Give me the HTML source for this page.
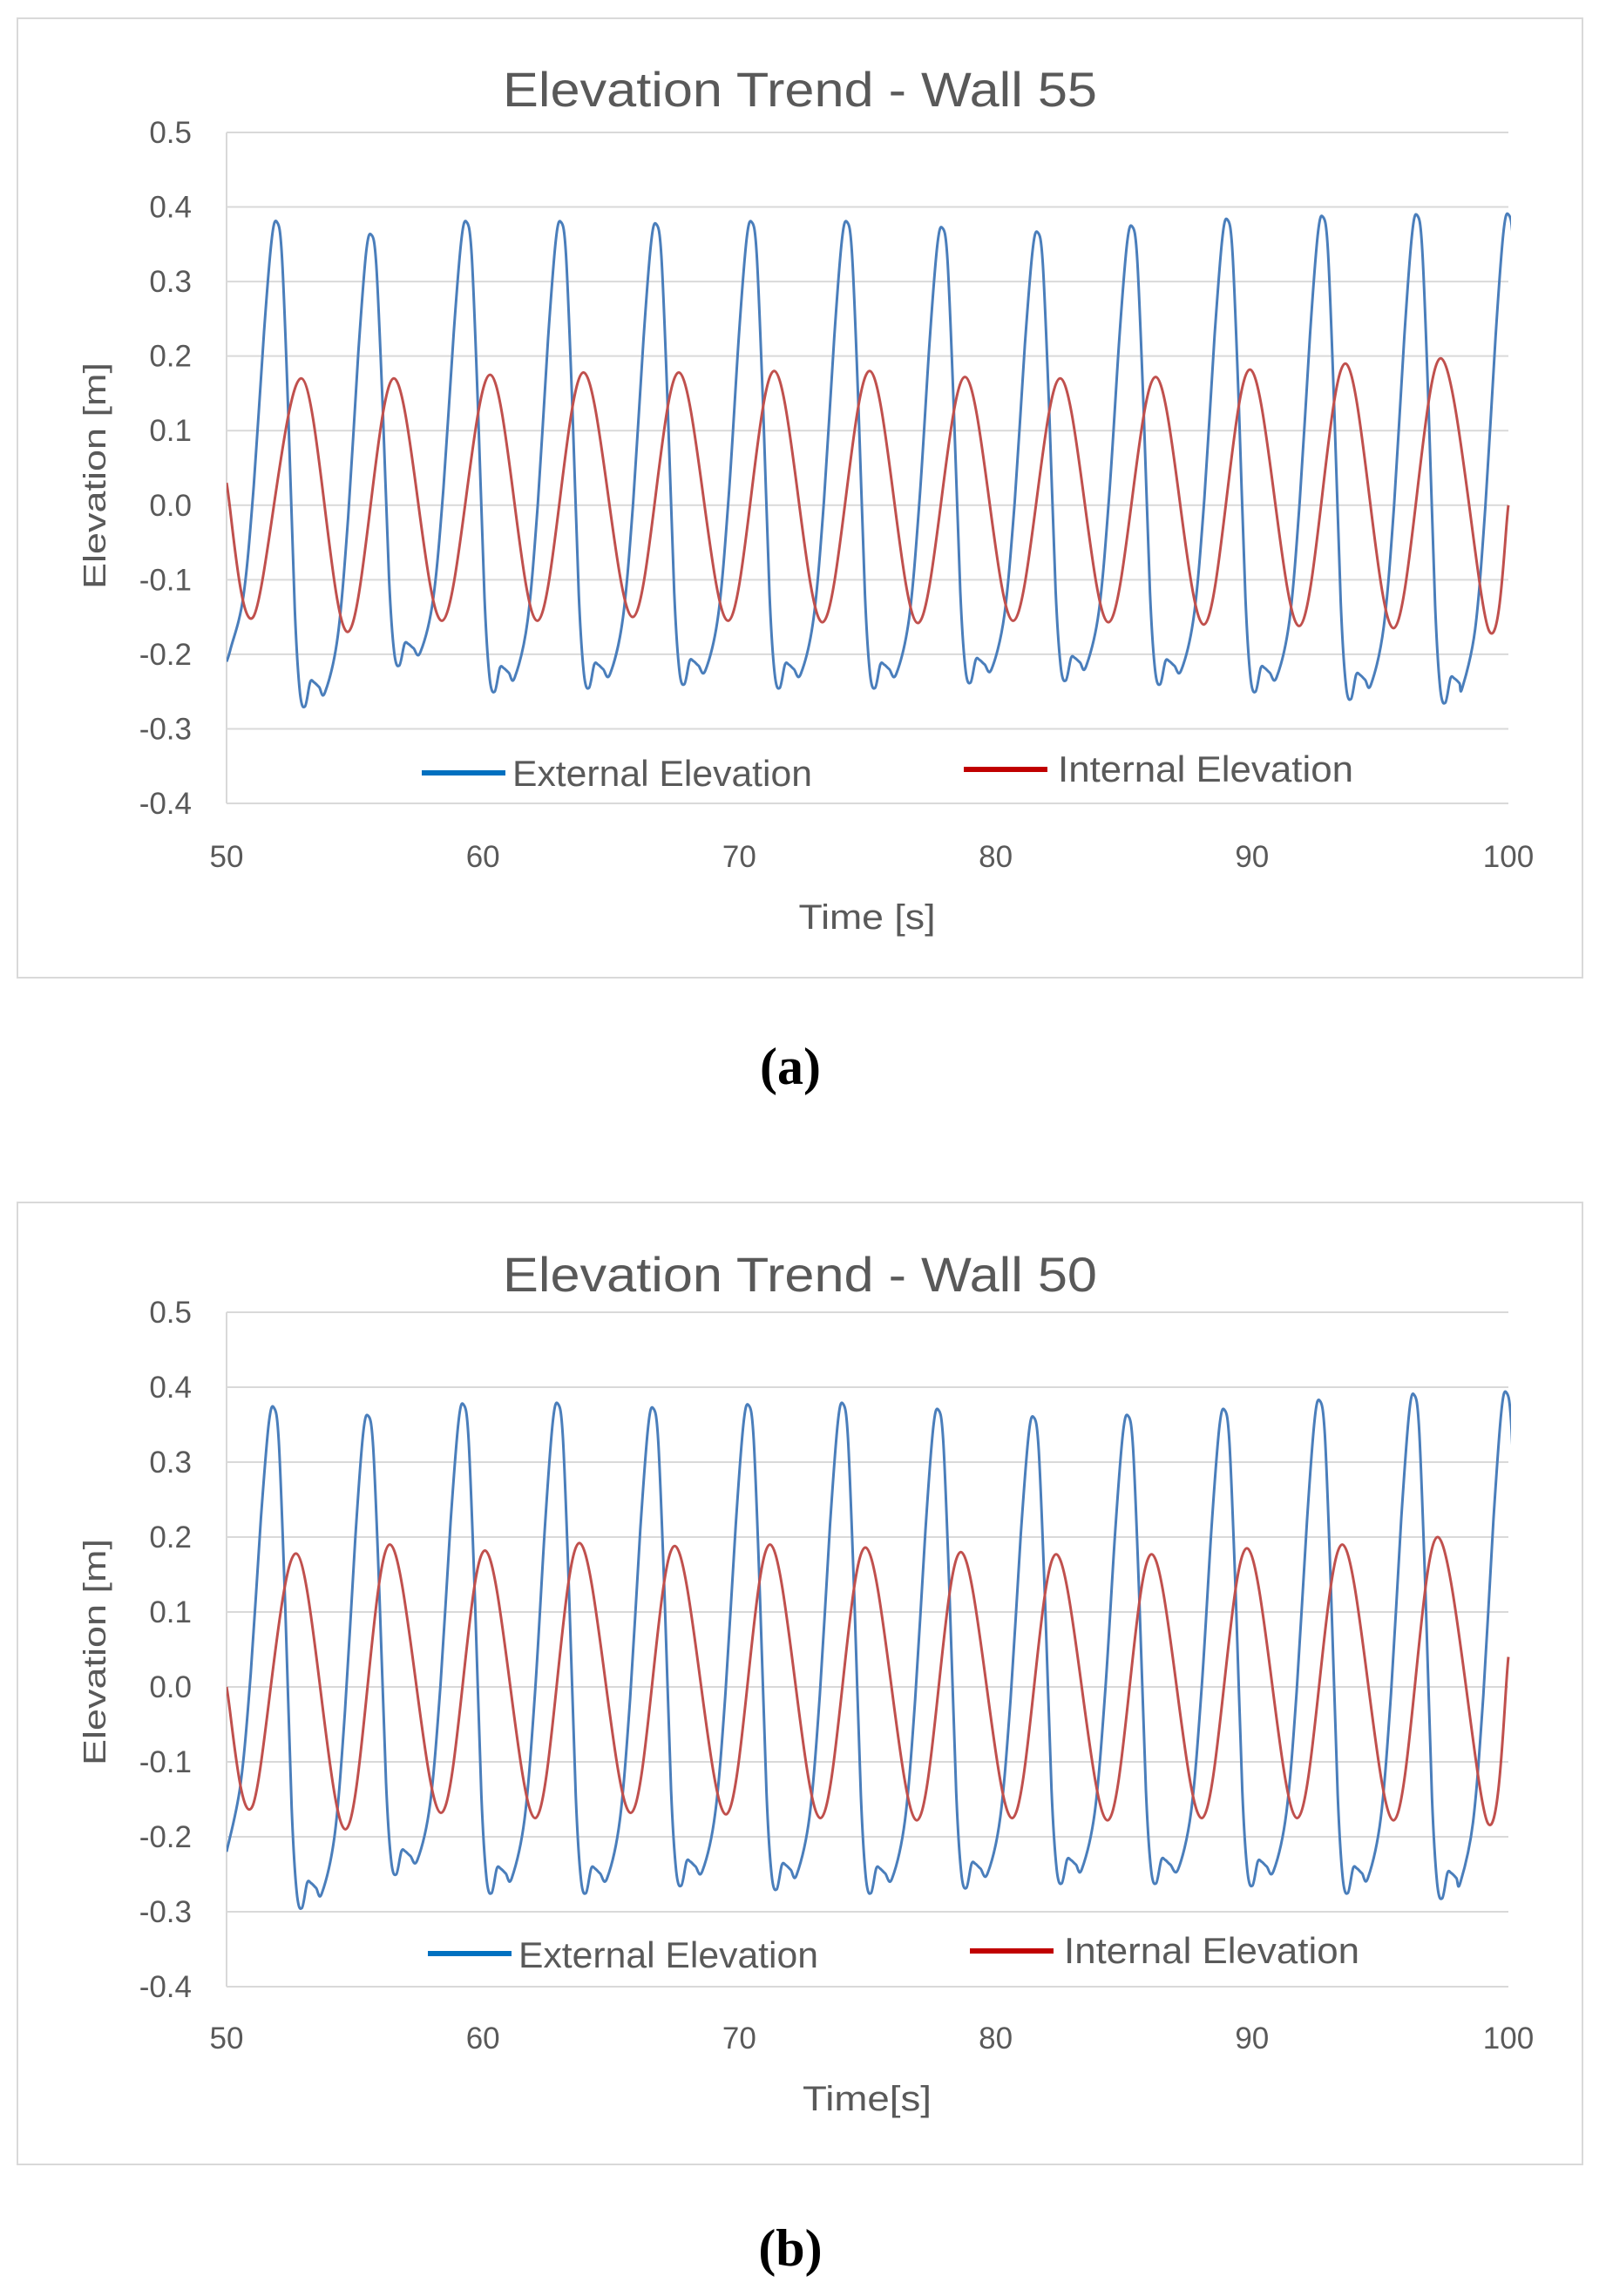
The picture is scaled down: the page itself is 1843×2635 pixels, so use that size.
<!DOCTYPE html>
<html><head><meta charset="utf-8"><style>
html,body{margin:0;padding:0;background:#fff}
svg{display:block}
text{font-family:"Liberation Sans Narrow","Liberation Sans",sans-serif;fill:#595959}
</style></head><body>
<svg id="fig" width="1843" height="2635" viewBox="0 0 1843 2635" xmlns="http://www.w3.org/2000/svg"></svg>
<script>
// ---- data (chart a: Wall 55) ----
const yTicks = [0.5,0.4,0.3,0.2,0.1,0.0,-0.1,-0.2,-0.3,-0.4];
const yTickLabels = ["0.5","0.4","0.3","0.2","0.1","0.0","-0.1","-0.2","-0.3","-0.4"];
const xTicks = [50,60,70,80,90,100];
const xTickLabels = ["50","60","70","80","90","100"];
const aExtPeakT = [51.96,55.64,59.36,63.04,66.76,70.48,74.2,77.92,81.64,85.32,89.04,92.76,96.44,100.0];
const aExtPeakV = [0.38,0.363,0.38,0.38,0.377,0.38,0.38,0.372,0.366,0.374,0.383,0.387,0.389,0.39];
const aExtTroughV = [-0.27,-0.215,-0.25,-0.245,-0.24,-0.245,-0.245,-0.238,-0.235,-0.24,-0.25,-0.26,-0.265,-0.26];
const aExtStartV = -0.21;
const aIntT = [50,51.04,52.92,54.72,56.52,58.4,60.28,62.12,63.92,65.84,67.64,69.56,71.36,73.24,75.08,76.96,78.8,80.68,82.52,84.4,86.24,88.12,89.92,91.84,93.64,95.52,97.36,99.24,100];
const aIntV = [0.03,-0.15,0.17,-0.17,0.17,-0.155,0.175,-0.155,0.178,-0.15,0.178,-0.155,0.18,-0.157,0.18,-0.158,0.172,-0.155,0.17,-0.157,0.172,-0.16,0.182,-0.162,0.19,-0.165,0.197,-0.168,0.0];
// ---- data (chart b: Wall 50) ----
const bExtPeakT = [51.84,55.52,59.24,62.92,66.64,70.36,74.04,77.76,81.48,85.16,88.92,92.64,96.32,99.92];
const bExtPeakV = [0.373,0.362,0.377,0.378,0.372,0.376,0.378,0.37,0.36,0.362,0.37,0.382,0.39,0.393];
const bExtTroughV = [-0.295,-0.25,-0.275,-0.275,-0.265,-0.27,-0.275,-0.268,-0.262,-0.262,-0.265,-0.275,-0.282,-0.28];
const bExtStartV = -0.22;
const bIntT = [50,51,52.72,54.64,56.36,58.36,60.08,62.04,63.76,65.76,67.48,69.48,71.2,73.16,74.92,76.92,78.64,80.64,82.36,84.36,86.08,88.04,89.8,91.76,93.52,95.52,97.24,99.2,100];
const bIntV = [0.0,-0.16,0.178,-0.19,0.19,-0.168,0.182,-0.175,0.192,-0.168,0.188,-0.17,0.19,-0.175,0.186,-0.178,0.18,-0.175,0.177,-0.178,0.177,-0.175,0.185,-0.175,0.19,-0.178,0.2,-0.182,0.04];

const NS = "http://www.w3.org/2000/svg";
const svg = document.getElementById('fig');
function mk(tag, attrs, parent, txt){
  const e = document.createElementNS(NS, tag);
  for (const k in attrs) e.setAttribute(k, attrs[k]);
  if (txt !== undefined) e.textContent = txt;
  (parent||svg).appendChild(e);
  return e;
}
// external wave shape template (time offset from peak, fraction trough->peak)
const shapeOff = [-1.8,-1.3,-0.9,-0.5,-0.2,0,0.2,0.45,0.7,0.9,1.1,1.3,1.45,1.65];
const shapeFr  = [0.03,0.15,0.4,0.75,0.96,1,0.93,0.6,0.2,0.03,0,0.05,0.05,0.04];
function extPoints(pt, pv, tv, startV){
  const pts = [[50,startV]];
  for (let i=0;i<pt.length;i++){
    const prevTr = i===0 ? startV : tv[i-1];
    for (let j=0;j<shapeOff.length;j++){
      const t = pt[i]+shapeOff[j];
      const base = shapeOff[j] < 0 ? prevTr : tv[i];
      const v = base + shapeFr[j]*(pv[i]-base);
      if (t>50.05) pts.push([t,v]);
    }
  }
  return pts;
}
function crPath(p){
  let d = "M"+p[0][0].toFixed(1)+","+p[0][1].toFixed(1);
  for (let i=0;i<p.length-1;i++){
    const p0=p[i-1]||p[i], p1=p[i], p2=p[i+1], p3=p[i+2]||p[i+1];
    const c1=[p1[0]+(p2[0]-p0[0])/6, p1[1]+(p2[1]-p0[1])/6];
    const c2=[p2[0]-(p3[0]-p1[0])/6, p2[1]-(p3[1]-p1[1])/6];
    d+=" C"+c1[0].toFixed(1)+","+c1[1].toFixed(1)+" "+c2[0].toFixed(1)+","+c2[1].toFixed(1)+" "+p2[0].toFixed(1)+","+p2[1].toFixed(1);
  }
  return d;
}
function chart(cfg){
  const g = mk('g',{});
  
  
  const fr = mk('rect',{x:20,y:cfg.frameTop,width:1796,height:cfg.frameBot-cfg.frameTop,fill:'#fff',stroke:'#d9d9d9','stroke-width':2},g);
  
  
  const L=260,R=1731,T=cfg.top,B=cfg.bot;
  const xs = t => L+(t-50)/50*(R-L);
  const ys = v => T+(0.5-v)/0.9*(B-T);
  yTicks.forEach((v,i)=>{
    const ln = mk('line',{x1:L,x2:R,y1:ys(v),y2:ys(v),stroke:'#d9d9d9','stroke-width':2},g);
    
    
    const tx = mk('text',{x:220,y:ys(v)+12,'text-anchor':'end','font-size':35},g,yTickLabels[i]);
    
    
  });
  const ax = mk('line',{x1:L,x2:L,y1:T,y2:B,stroke:'#d9d9d9','stroke-width':2},g);
  
  
  xTicks.forEach((t,i)=>{
    const tx = mk('text',{x:xs(t),y:cfg.xLab,'text-anchor':'middle','font-size':35},g,xTickLabels[i]);
    
    
  });
  const clipId = 'clip'+cfg.name;
  const cp = mk('clipPath',{id:clipId},g);
  mk('rect',{x:L,y:T-20,width:R-L+3,height:B-T+40},cp);
  const ext = extPoints(cfg.extT,cfg.extV,cfg.extTr,cfg.extStart).map(p=>[xs(p[0]),ys(p[1])]);
  const pe = mk('path',{d:crPath(ext),fill:'none',stroke:'#4a7ebb','stroke-width':3,'clip-path':'url(#'+clipId+')'},g);
  
  
  const inn = cfg.intT.map((t,i)=>[xs(t),ys(cfg.intV[i])]);
  const pi = mk('path',{d:crPath(inn),fill:'none',stroke:'#c0504d','stroke-width':3,'clip-path':'url(#'+clipId+')'},g);
  
  
  const ti = mk('text',{x:918,y:cfg.titleY,'text-anchor':'middle','font-size':56,textLength:682,lengthAdjust:'spacingAndGlyphs'},g,cfg.title);
  
  
  const yt = mk('text',{x:0,y:0,'text-anchor':'middle','font-size':36,'font-family':'Liberation Sans',transform:'translate(121,'+cfg.yTitleY+') rotate(-90)',textLength:260,lengthAdjust:'spacingAndGlyphs'},g,'Elevation [m]');
  
  
  const xt = mk('text',{x:995,y:cfg.xTitleY,'text-anchor':'middle','font-size':40,textLength:cfg.xTitleW,lengthAdjust:'spacingAndGlyphs'},g,cfg.xTitle);
  
  
  const l1 = mk('line',{x1:cfg.lg[0],x2:cfg.lg[0]+96,y1:cfg.lg[1],y2:cfg.lg[1],stroke:'#0070c0','stroke-width':6},g);
  
  
  const t1 = mk('text',{x:cfg.lg[0]+104,y:cfg.lg[2],'font-size':42,textLength:344,lengthAdjust:'spacingAndGlyphs'},g,'External Elevation');
  
  
  const l2 = mk('line',{x1:cfg.lg[3],x2:cfg.lg[3]+96,y1:cfg.lg[4],y2:cfg.lg[4],stroke:'#c00000','stroke-width':6},g);
  
  
  const t2 = mk('text',{x:cfg.lg[3]+108,y:cfg.lg[5],'font-size':42,textLength:339,lengthAdjust:'spacingAndGlyphs'},g,'Internal Elevation');
  
  
  const cap = mk('text',{x:907,y:cfg.capY,'text-anchor':'middle','font-size':60,'font-weight':'bold',style:'font-family:"Liberation Serif",serif;fill:#000'},g,cfg.cap);
  
  
}
chart({name:'chart-wall-55',frameTop:21,frameBot:1122,top:152,bot:922,xLab:995,titleY:122,title:'Elevation Trend - Wall 55',
  yTitleY:546,xTitleY:1066,xTitle:'Time [s]',xTitleW:157,lg:[484,887,902,1106,883,897],capY:1244,cap:'(a)',
  extT:aExtPeakT,extV:aExtPeakV,extTr:aExtTroughV,extStart:aExtStartV,intT:aIntT,intV:aIntV});
chart({name:'chart-wall-50',frameTop:1380,frameBot:2484,top:1506,bot:2280,xLab:2351,titleY:1482,title:'Elevation Trend - Wall 50',
  yTitleY:1896,xTitleY:2422,xTitle:'Time[s]',xTitleW:148,lg:[491,2242,2258,1113,2239,2253],capY:2600,cap:'(b)',
  extT:bExtPeakT,extV:bExtPeakV,extTr:bExtTroughV,extStart:bExtStartV,intT:bIntT,intV:bIntV});
</script>
</body></html>
